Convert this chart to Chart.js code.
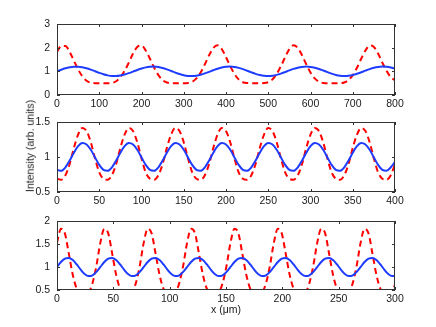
<!DOCTYPE html>
<html><head><meta charset="utf-8">
<script src="https://cdn.jsdelivr.net/npm/chart.js@4"></script>
<style>
html,body{margin:0;padding:0;background:#fff;}
#wrap{position:relative;width:436px;height:327px;overflow:hidden;font-family:"Liberation Sans",Arial,sans-serif;}
canvas{position:absolute;left:0;top:0;}
.lbl{position:absolute;font-size:10.5px;color:#1a1a1a;white-space:nowrap;line-height:1;}
</style></head><body>
<div id="wrap">
<canvas id="c1" width="436" height="327"></canvas>
<canvas id="c2" width="436" height="327"></canvas>
<canvas id="c3" width="436" height="327"></canvas>
<div class="lbl" style="left:30px;top:146px;transform:translate(-50%,-50%) rotate(-90deg);">Intensity (arb. units)</div>
<div class="lbl" style="left:226px;top:309px;transform:translate(-50%,-50%);">x (μm)</div>
</div>
<script>
// ---------- Panel 1 (0..800) ----------
const p1X = [0,10,20,30,40,50,60,70,80,90,100,110,120,130,140,150,160,170,180,190,200,210,220,230,240,250,260,270,280,290,300,310,320,330,340,350,360,370,380,390,400,410,420,430,440,450,460,470,480,490,500,510,520,530,540,550,560,570,580,590,600,610,620,630,640,650,660,670,680,690,700,710,720,730,740,750,760,770,780,790,800];
const p1Blue = [1.000,1.068,1.128,1.172,1.197,1.197,1.175,1.132,1.073,1.005,
0.937,0.876,0.830,0.804,0.802,0.823,0.865,0.922,0.990,1.058,
1.120,1.167,1.194,1.199,1.180,1.139,1.082,1.016,0.947,0.885,
0.836,0.807,0.801,0.818,0.857,0.913,0.979,1.048,1.111,1.161,
1.192,1.200,1.184,1.146,1.092,1.026,0.957,0.893,0.842,0.810,
0.800,0.814,0.850,0.904,0.969,1.038,1.102,1.155,1.188,1.200,
1.188,1.153,1.101,1.036,0.967,0.902,0.849,0.813,0.800,0.810,
0.843,0.895,0.959,1.028,1.093,1.148,1.185,1.200,1.191,1.160,
1.110];
const p1Red = [1.82,2.07,2.07,1.82,1.45,1.08,0.79,0.60,0.52,0.50,
0.50,0.50,0.50,0.51,0.58,0.75,1.02,1.37,1.75,2.03,
2.09,1.88,1.53,1.15,0.84,0.63,0.53,0.50,0.50,0.50,
0.50,0.51,0.56,0.70,0.95,1.30,1.68,1.99,2.10,1.94,
1.60,1.22,0.89,0.66,0.54,0.505,0.50,0.50,0.50,0.505,
0.54,0.66,0.89,1.22,1.60,1.94,2.10,1.99,1.68,1.30,
0.95,0.70,0.56,0.51,0.50,0.50,0.50,0.50,0.53,0.63,
0.84,1.15,1.53,1.88,2.09,2.03,1.75,1.37,1.02,0.75,
0.62];
const p1XTicks = [0,100,200,300,400,500,600,700,800];
const p1YTicks = [0,1,2,3];

// ---------- Panel 2 (0..400) ----------
const p2X = [0,5,10,15,20,25,30,35,40,45,50,55,60,65,70,75,80,85,90,95,100,105,110,115,120,125,130,135,140,145,150,155,160,165,170,175,180,185,190,195,200,205,210,215,220,225,230,235,240,245,250,255,260,265,270,275,280,285,290,295,300,305,310,315,320,325,330,335,340,345,350,355,360,365,370,375,380,385,390,395,400];
const p2Blue = [0.816,0.803,0.853,0.949,1.062,1.155,1.199,1.179,1.103,0.994,0.887,
0.816,0.803,0.853,0.949,1.062,1.155,1.199,1.179,1.103,0.994,0.887,
0.816,0.803,0.853,0.949,1.062,1.155,1.199,1.179,1.103,0.994,0.887,
0.816,0.803,0.853,0.949,1.062,1.155,1.199,1.179,1.103,0.994,0.887,
0.816,0.803,0.853,0.949,1.062,1.155,1.199,1.179,1.103,0.994,0.887,
0.816,0.803,0.853,0.949,1.062,1.155,1.199,1.179,1.103,0.994,0.887,
0.816,0.803,0.853,0.949,1.062,1.155,1.199,1.179,1.103,0.994,0.887,
0.816,0.803,0.853,0.930];
const p2Red = [0.69,0.675,0.74,0.90,1.13,1.32,1.415,1.37,1.21,0.98,0.78,
0.69,0.675,0.74,0.90,1.13,1.32,1.415,1.37,1.21,0.98,0.78,
0.69,0.675,0.74,0.90,1.13,1.32,1.415,1.37,1.21,0.98,0.78,
0.69,0.675,0.74,0.90,1.13,1.32,1.415,1.37,1.21,0.98,0.78,
0.69,0.675,0.74,0.90,1.13,1.32,1.415,1.37,1.21,0.98,0.78,
0.69,0.675,0.74,0.90,1.13,1.32,1.415,1.37,1.21,0.98,0.78,
0.69,0.675,0.74,0.90,1.13,1.32,1.415,1.37,1.21,0.98,0.78,
0.69,0.675,0.74,0.90];
const p2XTicks = [0,50,100,150,200,250,300,350,400];
const p2YTicks = [0.5,1,1.5];

// ---------- Panel 3 (0..300) ----------
const p3X = [0,3.5,7,10.5,14,17.5,21,24.5,28,31.5,35,38.5,42,45.5,49,52.5,56,59.5,63,66.5,70,73.5,77,80.5,84,87.5,91,94.5,98,101.5,105,108.5,112,115.5,119,122.5,126,129.5,133,136.5,140,143.5,147,150.5,154,157.5,161,164.5,168,171.5,175,178.5,182,185.5,189,192.5,196,199.5,203,206.5,210,213.5,217,220.5,224,227.5,231,234.5,238,241.5,245,248.5,252,255.5,259,262.5,266,269.5,273,276.5,280,283.5,287,290.5,294,297.5,300];
const p3Blue = [1.001,1.109,1.182,1.198,1.151,1.056,0.943,0.848,0.802,0.818,0.893,
1.001,1.109,1.182,1.198,1.151,1.056,0.943,0.848,0.802,0.818,0.893,
1.001,1.109,1.182,1.198,1.151,1.056,0.943,0.848,0.802,0.818,0.893,
1.001,1.109,1.182,1.198,1.151,1.056,0.943,0.848,0.802,0.818,0.893,
1.001,1.109,1.182,1.198,1.151,1.056,0.943,0.848,0.802,0.818,0.893,
1.001,1.109,1.182,1.198,1.151,1.056,0.943,0.848,0.802,0.818,0.893,
1.001,1.109,1.182,1.198,1.151,1.056,0.943,0.848,0.802,0.818,0.893,
1.001,1.109,1.182,1.198,1.151,1.056,0.943,0.848,0.802,0.807];
const p3Red = [1.53,1.83,1.73,1.29,0.83,0.53,0.45,0.45,0.46,0.65,1.03,
1.53,1.83,1.73,1.29,0.83,0.53,0.45,0.45,0.46,0.65,1.03,
1.53,1.83,1.73,1.29,0.83,0.53,0.45,0.45,0.46,0.65,1.03,
1.53,1.83,1.73,1.29,0.83,0.53,0.45,0.45,0.46,0.65,1.03,
1.53,1.83,1.73,1.29,0.83,0.53,0.45,0.45,0.46,0.65,1.03,
1.53,1.83,1.73,1.29,0.83,0.53,0.45,0.45,0.46,0.65,1.03,
1.53,1.83,1.73,1.29,0.83,0.53,0.45,0.45,0.46,0.65,1.03,
1.53,1.83,1.73,1.29,0.83,0.53,0.45,0.45,0.46,0.62];
const p3XTicks = [0,50,100,150,200,250,300];
const p3YTicks = [0.5,1,1.5,2];

const BLUE = 'rgb(30,60,255)';
const RED = 'rgb(255,0,0)';
const AXIS = '#333333';
const FONT = {family:"'Liberation Sans', Arial, sans-serif", size:10.5};

const boxPlugin = {
  id:'boxTicks',
  afterDraw(chart){
    const {ctx, chartArea:a, scales:{x, y}} = chart;
    ctx.save();
    ctx.strokeStyle = AXIS; ctx.lineWidth = 1;
    ctx.strokeRect(a.left+0.5, a.top+0.5, a.right-a.left-1, a.bottom-a.top-1);
    ctx.beginPath();
    const L = 3;
    x.ticks.forEach(t=>{
      const px = Math.round(x.getPixelForValue(t.value))+0.5;
      ctx.moveTo(px, a.bottom); ctx.lineTo(px, a.bottom-L);
      ctx.moveTo(px, a.top); ctx.lineTo(px, a.top+L);
    });
    y.ticks.forEach(t=>{
      const py = Math.round(y.getPixelForValue(t.value))+0.5;
      ctx.moveTo(a.left, py); ctx.lineTo(a.left+L, py);
      ctx.moveTo(a.right, py); ctx.lineTo(a.right-L, py);
    });
    ctx.stroke();
    ctx.restore();
  }
};

function makePanel(id, xs, blue, red, xT, yT, top, bottom){
  new Chart(document.getElementById(id), {
    type:'line',
    data:{datasets:[
      {data: xs.map((x,i)=>({x:x, y:blue[i]})), borderColor:BLUE, borderWidth:2, pointRadius:0, cubicInterpolationMode:'monotone', fill:false},
      {data: xs.map((x,i)=>({x:x, y:red[i]})), borderColor:RED, borderWidth:2, borderDash:[6,4], pointRadius:0, cubicInterpolationMode:'monotone', fill:false}
    ]},
    options:{
      responsive:false, animation:false, devicePixelRatio:1, events:[],
      layout:{padding:{left:0, right:41, top:top, bottom:327-bottom-20}},
      plugins:{legend:{display:false}, tooltip:{enabled:false}, title:{display:false}},
      scales:{
        x:{type:'linear', min:xT[0], max:xT[xT.length-1],
           grid:{display:false, drawTicks:false}, border:{display:false},
           afterFit(s){ s.height = 20; },
           afterBuildTicks(s){ s.ticks = xT.map(v=>({value:v})); },
           ticks:{padding:3, color:'#1a1a1a', font:FONT, maxRotation:0, autoSkip:false, callback:(v)=>String(v)}},
        y:{type:'linear', min:yT[0], max:yT[yT.length-1],
           grid:{display:false, drawTicks:false}, border:{display:false},
           afterFit(s){ s.width = 57; },
           afterBuildTicks(s){ s.ticks = yT.map(v=>({value:v})); },
           ticks:{padding:7, color:'#1a1a1a', font:FONT, autoSkip:false, callback:(v)=>String(v)}}
      }
    },
    plugins:[boxPlugin]
  });
}

makePanel('c1', p1X, p1Blue, p1Red, p1XTicks, p1YTicks, 24, 95);
makePanel('c2', p2X, p2Blue, p2Red, p2XTicks, p2YTicks, 122, 192);
makePanel('c3', p3X, p3Blue, p3Red, p3XTicks, p3YTicks, 221, 290);
</script>
</body></html>
